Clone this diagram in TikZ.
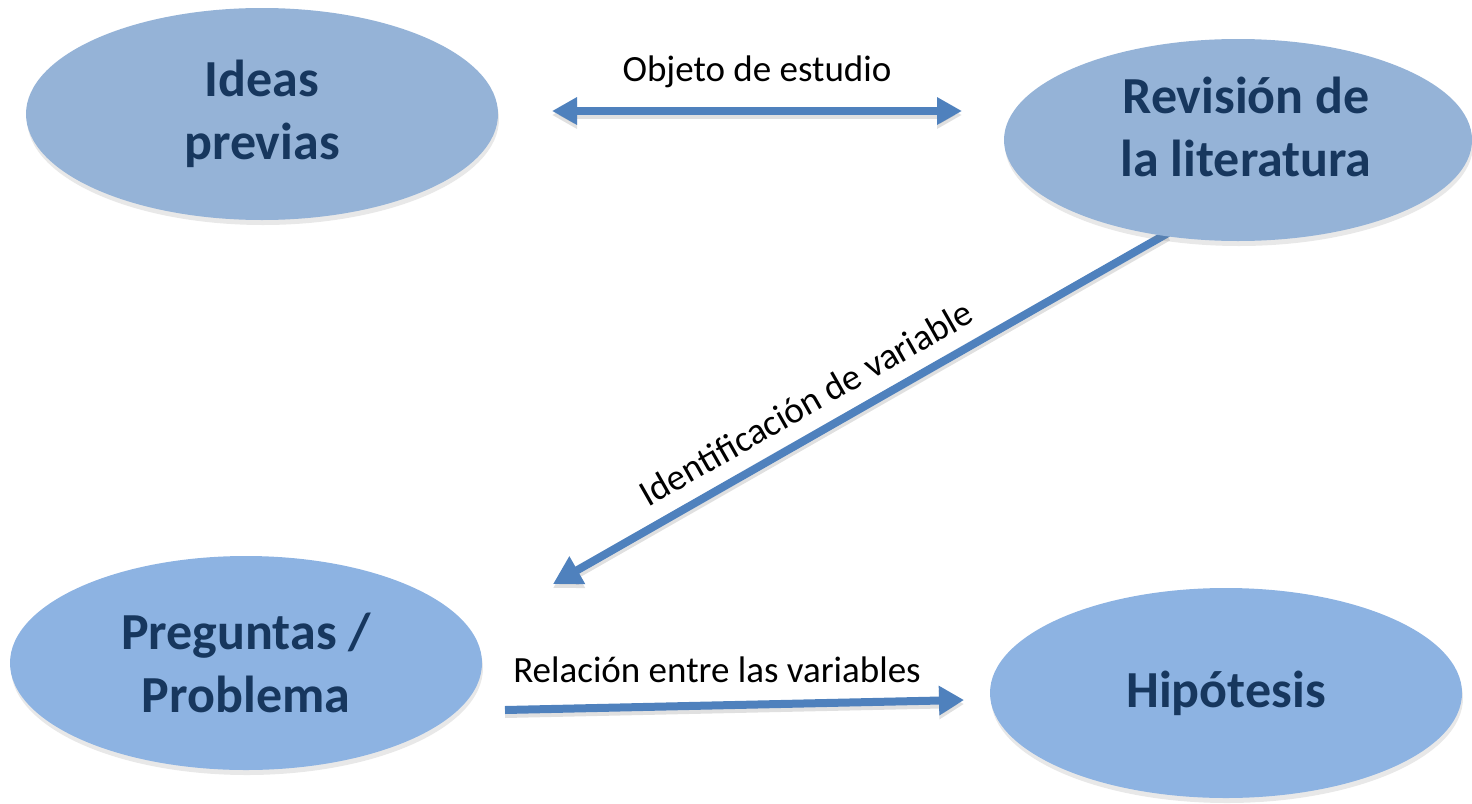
\documentclass[tikz,border=0pt]{standalone}
\usepackage{fontspec}
\setmainfont{Carlito}
\usetikzlibrary{shapes.geometric,arrows.meta,shadows}
\definecolor{topfill}{HTML}{95B3D7}
\definecolor{botfill}{HTML}{8DB3E2}
\definecolor{navy}{HTML}{17375E}
\definecolor{arrowblue}{HTML}{4F81BD}
\tikzset{
  bubble/.style={ellipse, inner sep=0pt, minimum width=472pt, minimum height=212pt,
    text=navy, align=center, font=\fontsize{52}{63}\selectfont\bfseries,
    drop shadow={opacity=0.18, shadow xshift=1pt, shadow yshift=-5pt}},
  bubbletext/.style={text=navy, align=center, inner sep=0pt, font=\fontsize{52}{63}\selectfont\bfseries},
  conn/.style={draw=arrowblue, line width=8pt,
    preaction={draw=black, opacity=0.12, line width=8pt, transform canvas={yshift=-4pt}}},
  lbl/.style={font=\fontsize{37}{44}\selectfont, text=black, inner sep=0pt}
}
\begin{document}
\begin{tikzpicture}[x=1pt,y=-1pt]
\useasboundingbox (0,0) rectangle (1472,803);
% connector end points
\coordinate (o1) at (552,111);
\coordinate (o2) at (962,111);
\coordinate (d1) at (1168,233);
\coordinate (d2) at (553,584);
\coordinate (r1) at (505,710);
\coordinate (r2) at (964,700);
% connectors
\draw[conn, {Triangle[length=25pt,width=26pt]}-{Triangle[length=25pt,width=26pt]}] (o1) -- (o2);
\draw[conn, -{Triangle[length=28pt,width=30pt]}] (d1) -- (d2);
\draw[conn, -{Triangle[length=25pt,width=28pt]}] (r1) -- (r2);
% ellipses
\node[bubble, fill=topfill, minimum width=472pt, minimum height=212pt] (ideas) at (262,114) {Ideas\\previas};
\node[bubble, fill=topfill, minimum width=468pt, minimum height=202pt] (rev) at (1238,140) {};
\node[bubbletext] (revt) at (1246,127) {Revisión de\\la literatura};
\node[bubble, fill=botfill, minimum width=472pt, minimum height=214pt] (preg) at (246,663) {Preguntas /\\Problema};
\node[bubble, fill=botfill, minimum width=472pt, minimum height=210pt] (hip) at (1226,693) {Hipótesis};
% labels
\node[lbl] (lo) at (757,72) {Objeto de estudio};
\node[lbl, rotate=29.7] (li) at (806,403) {Identificación de variable};
\node[lbl] (lr) at (717,670) {Relación entre las variables};
\end{tikzpicture}
\end{document}
